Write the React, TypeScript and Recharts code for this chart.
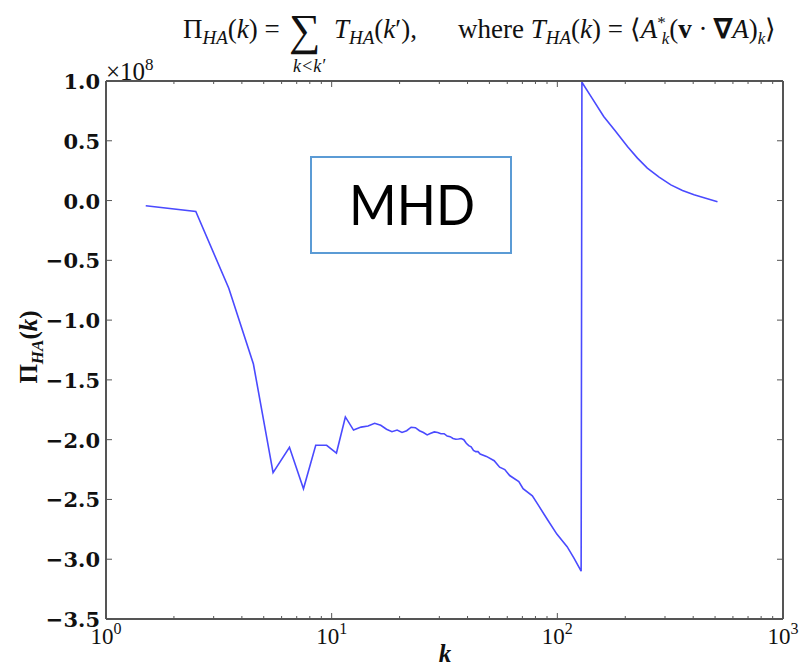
import React from 'react';
import { LineChart, Line, XAxis, YAxis } from 'recharts';

// k (wavenumber) and Pi_HA(k) in units of 1e8
const kValues = [
  1.5, 2.5, 3.5, 4.5, 5.5, 6.5, 7.5, 8.5, 9.5, 10.5, 11.5, 12.5, 13.5, 14.5, 15.5,
  16.5, 17.5, 18.5, 19.5, 20.5, 21.5, 22.5, 23.5, 24.5, 25.5, 26.5, 27.5, 28.5, 29.5,
  30.5, 31.5, 32.5, 33.5, 34.5, 35.5, 36.5, 37.5, 38.5, 39.5, 40.5, 41.5, 42.5, 43.5,
  44.5, 45.5, 48.5, 52.5, 55.5, 58.5, 61.5, 67.5, 70.5, 77.5, 82.5, 90.5, 99.5, 110.5,
  118.5, 127.5, 128.5, 142.5, 160.5, 181.5, 204.5, 226.5, 250.5, 282.5, 318.5, 358.5,
  403.5, 454.5, 512.5,
];
const piValues = [
  -0.044, -0.092, -0.733, -1.367, -2.276, -2.064, -2.41, -2.047, -2.047, -2.112, -1.81,
  -1.92, -1.895, -1.885, -1.863, -1.88, -1.913, -1.933, -1.92, -1.94, -1.925, -1.896,
  -1.9, -1.925, -1.94, -1.96, -1.947, -1.935, -1.94, -1.95, -1.95, -1.97, -1.975, -1.99,
  -1.996, -1.994, -1.99, -2.0, -2.03, -2.05, -2.06, -2.09, -2.1, -2.1, -2.12, -2.14,
  -2.176, -2.23, -2.25, -2.3, -2.35, -2.41, -2.47, -2.55, -2.67, -2.79, -2.895, -2.99,
  -3.1, 0.99, 0.857, 0.703, 0.577, 0.452, 0.355, 0.271, 0.196, 0.131, 0.084, 0.048,
  0.02, -0.01,
];

const xMajorTicks = [1, 10, 100, 1000];
const xMinorTicks = [2, 3, 4, 5, 6, 7, 8, 9, 20, 30, 40, 50, 60, 70, 80, 90, 200, 300, 400, 500, 600, 700, 800, 900];
const yTicks = [-3.5, -3, -2.5, -2, -1.5, -1, -0.5, 0, 0.5, 1];

const data = kValues.map((k, i) => ({ k, pi: piValues[i] }));
const xTicks = [...xMajorTicks, ...xMinorTicks].sort((a, b) => a - b);

const AXIS = '#555555';
const LINE = '#4a4aff';
const SERIF = "'Liberation Serif', 'Times New Roman', serif";
const TICKFONT = "'DejaVu Serif', serif";

const isMajor = (v: number) => xMajorTicks.includes(v);
const fmtY = (v: number) => v.toFixed(1).replace('-', '\u2212');

function BottomTick(props: any) {
  const { x, y, payload } = props;
  const v = payload.value;
  const major = isMajor(v);
  return (
    <g>
      <line x1={x} y1={y} x2={x} y2={y - (major ? 6 : 3)} stroke={AXIS} strokeWidth={1} />
      {major && (
        <text x={x} y={y + 25} textAnchor="middle" fontFamily={SERIF} fontSize={23} fill="#111">
          10<tspan dy={-10} fontSize={16}>{Math.round(Math.log10(v))}</tspan>
        </text>
      )}
    </g>
  );
}

function TopTick(props: any) {
  const { x, y, payload } = props;
  const major = isMajor(payload.value);
  return <line x1={x} y1={y} x2={x} y2={y + (major ? 6 : 3)} stroke={AXIS} strokeWidth={1} />;
}

function LeftTick(props: any) {
  const { x, y, payload } = props;
  return (
    <g>
      <line x1={x} y1={y} x2={x + 6} y2={y} stroke={AXIS} strokeWidth={1} />
      <text x={x - 6} y={y + 8} textAnchor="end" fontFamily={TICKFONT} fontWeight="bold" fontSize={21} fill="#111">
        {fmtY(payload.value)}
      </text>
    </g>
  );
}

function RightTick(props: any) {
  const { x, y } = props;
  return <line x1={x} y1={y} x2={x - 6} y2={y} stroke={AXIS} strokeWidth={1} />;
}

export default function App() {
  return (
    <div style={{ position: 'absolute', left: 0, top: 0, width: 803, height: 668, background: '#fff' }}>
      <LineChart width={803} height={668} data={data} margin={{ top: 80, right: 19, bottom: 19, left: 0 }}>
        <XAxis
          xAxisId="bottom"
          dataKey="k"
          type="number"
          scale="log"
          domain={[1, 1000]}
          allowDataOverflow
          ticks={xTicks}
          interval={0}
          tick={<BottomTick />}
          tickLine={false}
          tickSize={0}
          tickMargin={0}
          height={30}
          axisLine={{ stroke: AXIS, strokeWidth: 2 }}
        />
        <XAxis
          xAxisId="top"
          orientation="top"
          dataKey="k"
          type="number"
          scale="log"
          domain={[1, 1000]}
          allowDataOverflow
          ticks={xTicks}
          interval={0}
          tick={<TopTick />}
          tickLine={false}
          tickSize={0}
          tickMargin={0}
          height={1}
          axisLine={{ stroke: AXIS, strokeWidth: 2 }}
        />
        <YAxis
          yAxisId="left"
          type="number"
          domain={[-3.5, 1]}
          allowDataOverflow
          ticks={yTicks}
          interval={0}
          tick={<LeftTick />}
          tickLine={false}
          tickSize={0}
          tickMargin={0}
          width={106}
          axisLine={{ stroke: AXIS, strokeWidth: 2 }}
        />
        <YAxis
          yAxisId="right"
          orientation="right"
          type="number"
          domain={[-3.5, 1]}
          allowDataOverflow
          ticks={yTicks}
          interval={0}
          tick={<RightTick />}
          tickLine={false}
          tickSize={0}
          tickMargin={0}
          width={1}
          axisLine={{ stroke: AXIS, strokeWidth: 2 }}
        />
        <Line
          xAxisId="bottom"
          yAxisId="left"
          type="linear"
          dataKey="pi"
          stroke={LINE}
          strokeWidth={1.6}
          dot={false}
          isAnimationActive={false}
        />
      </LineChart>
      <svg width={803} height={668} style={{ position: 'absolute', left: 0, top: 0, pointerEvents: 'none' }}>
        {/* Title formula */}
        <text x={183} y={38} fontFamily={SERIF} fontSize={27} fill="#111">
          Π<tspan dy={6} fontSize={19} fontStyle="italic">HA</tspan>
          <tspan dy={-6}>(</tspan><tspan fontStyle="italic">k</tspan>) =
        </text>
        <text x={289} y={45} fontFamily={SERIF} fontSize={44} fill="#111">∑</text>
        <text x={293} y={72} fontFamily={SERIF} fontSize={18} fontStyle="italic" fill="#111">k&lt;k′</text>
        <text x={334} y={38} fontFamily={SERIF} fontSize={27} fill="#111">
          <tspan fontStyle="italic">T</tspan><tspan dy={6} fontSize={19} fontStyle="italic">HA</tspan>
          <tspan dy={-6}>(</tspan><tspan fontStyle="italic">k</tspan>′),
        </text>
        <text x={458} y={38} fontFamily={SERIF} fontSize={27} fill="#111">
          where <tspan fontStyle="italic">T</tspan><tspan dy={6} fontSize={19} fontStyle="italic">HA</tspan>
          <tspan dy={-6}>(</tspan><tspan fontStyle="italic">k</tspan>) = ⟨<tspan fontStyle="italic">A</tspan>
          <tspan dy={-10} fontSize={17}>*</tspan><tspan dx={-4} dy={16} fontSize={17} fontStyle="italic">k</tspan>
          <tspan dy={-6}>(</tspan><tspan fontWeight="bold">v</tspan> · <tspan fontWeight="bold">∇</tspan>
          <tspan fontStyle="italic">A</tspan>)<tspan dy={6} fontSize={17} fontStyle="italic">k</tspan>
          <tspan dy={-6}>⟩</tspan>
        </text>
        {/* axis multiplier */}
        <text x={106} y={80} fontFamily={SERIF} fontSize={25} fill="#111">
          ×10<tspan dy={-10} fontSize={17}>8</tspan>
        </text>
        {/* y label */}
        <text
          transform="translate(37,347) rotate(-90)"
          textAnchor="middle"
          fontFamily={SERIF}
          fontWeight="bold"
          fontSize={25}
          fill="#111"
        >
          Π<tspan dy={6} fontSize={17} fontStyle="italic">HA</tspan>
          <tspan dy={-6}>(</tspan><tspan fontStyle="italic">k</tspan>)
        </text>
        {/* x label */}
        <text x={445} y={662} textAnchor="middle" fontFamily={SERIF} fontWeight="bold" fontStyle="italic" fontSize={25} fill="#111">
          k
        </text>
        {/* MHD box */}
        <rect x={311} y={157} width={200} height={96} fill="#fff" stroke="#5b9bd5" strokeWidth={2} />
        <text x={412} y={225} textAnchor="middle" fontFamily="Lato, 'Open Sans', sans-serif" fontSize={56} fill="#000" textLength={126} lengthAdjust="spacingAndGlyphs">
          MHD
        </text>
      </svg>
    </div>
  );
}
